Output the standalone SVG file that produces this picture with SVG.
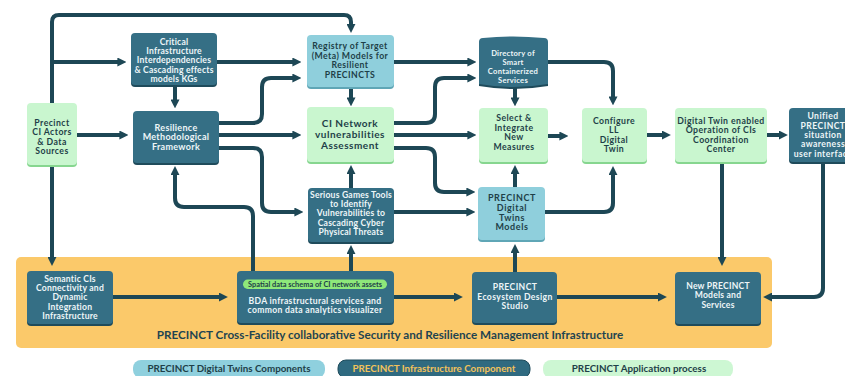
<svg xmlns="http://www.w3.org/2000/svg" width="845" height="376" viewBox="0 0 845 376">
  <style>
    text { font-family: "Lato", "Open Sans", "Liberation Sans", sans-serif; font-weight: 700; text-anchor: middle; }
    .wt { fill: #eef6f8; font-size: 8.6px; letter-spacing: 0.2px; }
    .dt { fill: #1e3f48; font-size: 8.7px; letter-spacing: 0.45px; }
    .dk { fill: #356f85; }
    .dks { fill: #1f4b5b; }
    .lb { fill: #8fcfdc; }
    .lbs { fill: #5fa6b6; }
    .lg { fill: #c9f6cf; }
    .lgs { fill: #86d68f; }
    .leg { font-size: 9.8px; }
    .conn path { fill: none; stroke: #1d4755; stroke-width: 4; marker-end: url(#ah); }
  </style>
  <defs>
    <marker id="ah" viewBox="0 0 10 10" refX="4" refY="5" markerWidth="9" markerHeight="9" markerUnits="userSpaceOnUse" orient="auto">
      <path d="M0,0 L10,5 L0,10 z" fill="#1d4755"/>
    </marker>
  </defs>

  <rect width="845" height="376" fill="#ffffff"/>

  <!-- infrastructure band -->
  <g id="infra-band">
    <rect x="16" y="257" width="756" height="91" rx="5" fill="#fbc96a"/>
    <text x="390" y="339" style="font-size:11.7px; fill:#1f4450">PRECINCT Cross-Facility collaborative Security and Resilience Management Infrastructure</text>
  </g>

  <!-- connectors -->
  <g id="connectors" class="conn">
    <path d="M52,103 V22 Q52,15 59,15 H344 Q351,15 351,22 V27.5"/>
    <path d="M52,62 H121"/>
    <path d="M77,135 H123"/>
    <path d="M175,85 V103"/>
    <path d="M217,62 H296"/>
    <path d="M219,123 H253 Q262,123 262,114 V87 Q262,78 271,78 H296"/>
    <path d="M219,135 H296"/>
    <path d="M219,148 H253 Q262,148 262,157 V203 Q262,212 271,212 H298"/>
    <path d="M253,271 V216 Q253,207 244,207 H184 Q175,207 175,198 V171.5"/>
    <path d="M351,87 V101"/>
    <path d="M351,188 V170.5"/>
    <path d="M351,271 V250.5"/>
    <path d="M394,62 H471"/>
    <path d="M394,123 H426 Q435,123 435,114 V87 Q435,78 444,78 H471"/>
    <path d="M394,135 H471"/>
    <path d="M394,148 H426 Q435,148 435,157 V183 Q435,192 444,192 H470"/>
    <path d="M394,212 H470"/>
    <path d="M515,87 V101"/>
    <path d="M515,187 V170.5"/>
    <path d="M548,136 H563"/>
    <path d="M548,62 H604 Q613,62 613,71 V100"/>
    <path d="M545,212 H604 Q613,212 613,203 V171.5"/>
    <path d="M647,135 H665.5"/>
    <path d="M767,135 H782.5"/>
    <path d="M722,162 V260.5"/>
    <path d="M823,162 V288 Q823,297 814,297 H768.5"/>
    <path d="M52,166 V260.5"/>
    <path d="M113,297 H222.5"/>
    <path d="M394,297 H457.5"/>
    <path d="M515,272 V249.5"/>
    <path d="M557,297 H661.5"/>
  </g>

  <!-- nodes -->
  <g id="ci-actors">
    <rect class="lgs" x="27" y="105" width="50" height="62" rx="4"/>
    <rect class="lg" x="27" y="103" width="50" height="62" rx="4"/>
    <text class="dt" x="52" y="125.5">Precinct</text>
    <text class="dt" x="52" y="135">CI Actors</text>
    <text class="dt" x="52" y="144.5">&amp; Data</text>
    <text class="dt" x="52" y="154">Sources</text>
  </g>

  <g id="ci-interdependencies">
    <rect class="dks" x="131" y="35" width="86" height="52" rx="4"/>
    <rect class="dk" x="131" y="33" width="86" height="52" rx="4"/>
    <text class="wt" x="174" y="44.6">Critical</text>
    <text class="wt" x="174" y="53.9">Infrastructure</text>
    <text class="wt" x="174" y="63.2">Interdependencies</text>
    <text class="wt" x="174" y="72.5">&amp; Cascading effects</text>
    <text class="wt" x="174" y="81.8">models  KGs</text>
  </g>

  <g id="resilience-framework">
    <rect class="dks" x="133" y="113" width="86" height="52" rx="4"/>
    <rect class="dk" x="133" y="111" width="86" height="52" rx="4"/>
    <text class="wt" x="176" y="130.5" style="font-size:9px; letter-spacing:0.3px">Resilience</text>
    <text class="wt" x="176" y="140.3" style="font-size:9px; letter-spacing:0.3px">Methodological</text>
    <text class="wt" x="176" y="150.1" style="font-size:9px; letter-spacing:0.3px">Framework</text>
  </g>

  <g id="registry">
    <rect class="lbs" x="307" y="37" width="87" height="52" rx="4"/>
    <rect class="lb" x="307" y="35" width="87" height="52" rx="4"/>
    <text class="dt" x="350" y="49">Registry of Target</text>
    <text class="dt" x="350" y="58.5">(Meta) Models for</text>
    <text class="dt" x="350" y="68">Resilient</text>
    <text class="dt" x="350" y="77.5">PRECINCTS</text>
  </g>

  <g id="ci-vulnerabilities">
    <rect class="lgs" x="307" y="109" width="87" height="55" rx="4"/>
    <rect class="lg" x="307" y="107" width="87" height="55" rx="4"/>
    <text class="dt" x="350" y="127" style="font-size:10px; letter-spacing:0.5px">CI Network</text>
    <text class="dt" x="350" y="138" style="font-size:10px; letter-spacing:0.5px">vulnerabilities</text>
    <text class="dt" x="350" y="149" style="font-size:10px; letter-spacing:0.5px">Assessment</text>
  </g>

  <g id="serious-games">
    <rect class="dks" x="308" y="190" width="86" height="54" rx="4"/>
    <rect class="dk" x="308" y="188" width="86" height="54" rx="4"/>
    <text class="wt" x="351" y="197.6">Serious Games Tools</text>
    <text class="wt" x="351" y="206.9">to Identify</text>
    <text class="wt" x="351" y="216.2">Vulnerabilities to</text>
    <text class="wt" x="351" y="225.5">Cascading Cyber</text>
    <text class="wt" x="351" y="234.8">Physical Threats</text>
  </g>

  <g id="directory">
    <path class="dks" d="M483,40 Q513,37 544,40 Q548,40 548,44 V86 Q513,92 479,86 V44 Q479,40 483,40 Z"/>
    <path class="dk" d="M483,38 Q513,35 544,38 Q548,38 548,42 V84 Q513,90 479,84 V42 Q479,38 483,38 Z"/>
    <text class="wt" x="513" y="56" style="font-size:7.6px; letter-spacing:0.25px">Directory of</text>
    <text class="wt" x="513" y="65" style="font-size:7.6px; letter-spacing:0.25px">Smart</text>
    <text class="wt" x="513" y="74" style="font-size:7.6px; letter-spacing:0.25px">Containerized</text>
    <text class="wt" x="513" y="83" style="font-size:7.6px; letter-spacing:0.25px">Services</text>
  </g>

  <g id="select-integrate">
    <rect class="lgs" x="479" y="110" width="69" height="54" rx="4"/>
    <rect class="lg" x="479" y="108" width="69" height="54" rx="4"/>
    <text class="dt" x="514" y="121">Select &amp;</text>
    <text class="dt" x="514" y="130.5">Integrate</text>
    <text class="dt" x="514" y="140">New</text>
    <text class="dt" x="514" y="149.5">Measures</text>
  </g>

  <g id="dt-models">
    <rect class="lbs" x="478" y="189" width="67" height="53" rx="4"/>
    <rect class="lb" x="478" y="187" width="67" height="53" rx="4"/>
    <text class="dt" x="512" y="201" style="font-size:9px; letter-spacing:0.6px">PRECINCT</text>
    <text class="dt" x="512" y="210.8" style="font-size:9px; letter-spacing:0.6px">Digital</text>
    <text class="dt" x="512" y="220.6" style="font-size:9px; letter-spacing:0.6px">Twins</text>
    <text class="dt" x="512" y="230.4" style="font-size:9px; letter-spacing:0.6px">Models</text>
  </g>

  <g id="configure-twin">
    <rect class="lgs" x="582" y="110" width="65" height="54" rx="4"/>
    <rect class="lg" x="582" y="108" width="65" height="54" rx="4"/>
    <text class="dt" x="614" y="123.5">Configure</text>
    <text class="dt" x="614" y="133">LL</text>
    <text class="dt" x="614" y="142.5">Digital</text>
    <text class="dt" x="614" y="152">Twin</text>
  </g>

  <g id="coordination-center">
    <rect class="lgs" x="675" y="110" width="92" height="54" rx="4"/>
    <rect class="lg" x="675" y="108" width="92" height="54" rx="4"/>
    <text class="dt" x="721" y="123.5">Digital Twin enabled</text>
    <text class="dt" x="721" y="133">Operation of CIs</text>
    <text class="dt" x="721" y="142.5">Coordination</text>
    <text class="dt" x="721" y="152">Center</text>
  </g>

  <g id="situation-awareness">
    <rect class="dks" x="789" y="110" width="68" height="54" rx="4"/>
    <rect class="dk" x="789" y="108" width="68" height="54" rx="4"/>
    <text class="wt" x="823" y="119.3" style="letter-spacing:0.45px">Unified</text>
    <text class="wt" x="823" y="128.6" style="letter-spacing:0.45px">PRECINCT</text>
    <text class="wt" x="823" y="137.9" style="letter-spacing:0.45px">situation</text>
    <text class="wt" x="823" y="147.2" style="letter-spacing:0.45px">awareness</text>
    <text class="wt" x="823" y="156.5" style="letter-spacing:0.45px">user interface</text>
  </g>

  <g id="semantic-connectivity">
    <rect class="dks" x="27" y="273" width="86" height="53" rx="4"/>
    <rect class="dk" x="27" y="271" width="86" height="53" rx="4"/>
    <text class="wt" x="70" y="281.8">Semantic CIs</text>
    <text class="wt" x="70" y="291.1">Connectivity and</text>
    <text class="wt" x="70" y="300.4">Dynamic</text>
    <text class="wt" x="70" y="309.7">Integration</text>
    <text class="wt" x="70" y="319">Infrastructure</text>
  </g>

  <g id="bda-services">
    <rect class="dks" x="237" y="273" width="157" height="52" rx="4"/>
    <rect class="dk" x="237" y="271" width="157" height="52" rx="4"/>
    <rect x="243" y="279.5" width="144" height="9.5" rx="4.7" fill="#8ee87a"/>
    <text x="315" y="287" style="font-size:7.4px; fill:#1e3f48">Spatial data schema of CI network assets</text>
    <text class="wt" x="315" y="303.8" style="letter-spacing:0.3px">BDA infrastructural services and</text>
    <text class="wt" x="315" y="313.3" style="letter-spacing:0.3px">common data analytics visualizer</text>
  </g>

  <g id="ecosystem-studio">
    <rect class="dks" x="472" y="274" width="85" height="51" rx="4"/>
    <rect class="dk" x="472" y="272" width="85" height="51" rx="4"/>
    <text class="wt" x="515" y="290" style="letter-spacing:0.4px">PRECINCT</text>
    <text class="wt" x="515" y="299.5" style="letter-spacing:0.4px">Ecosystem Design</text>
    <text class="wt" x="515" y="309" style="letter-spacing:0.4px">Studio</text>
  </g>

  <g id="new-models">
    <rect class="dks" x="675" y="274" width="86" height="52" rx="4"/>
    <rect class="dk" x="675" y="272" width="86" height="52" rx="4"/>
    <text class="wt" x="718" y="288.8">New PRECINCT</text>
    <text class="wt" x="718" y="298.3">Models and</text>
    <text class="wt" x="718" y="307.8">Services</text>
  </g>

  <!-- legend -->
  <g id="legend">
    <rect x="133" y="360" width="192" height="18" rx="8" fill="#8fd0de"/>
    <text class="leg" x="229" y="372" style="fill:#1e3f48">PRECINCT Digital Twins Components</text>
    <rect x="338" y="360" width="192" height="18" rx="8" fill="#2f6a80" stroke="#1f4b5b" stroke-width="1"/>
    <text class="leg" x="434" y="372" style="fill:#f3c25a">PRECINCT Infrastructure Component</text>
    <rect x="543" y="360" width="190" height="18" rx="8" fill="#cdf7d3"/>
    <text class="leg" x="639" y="372" style="fill:#1e3f48">PRECINCT Application process</text>
  </g>
</svg>
